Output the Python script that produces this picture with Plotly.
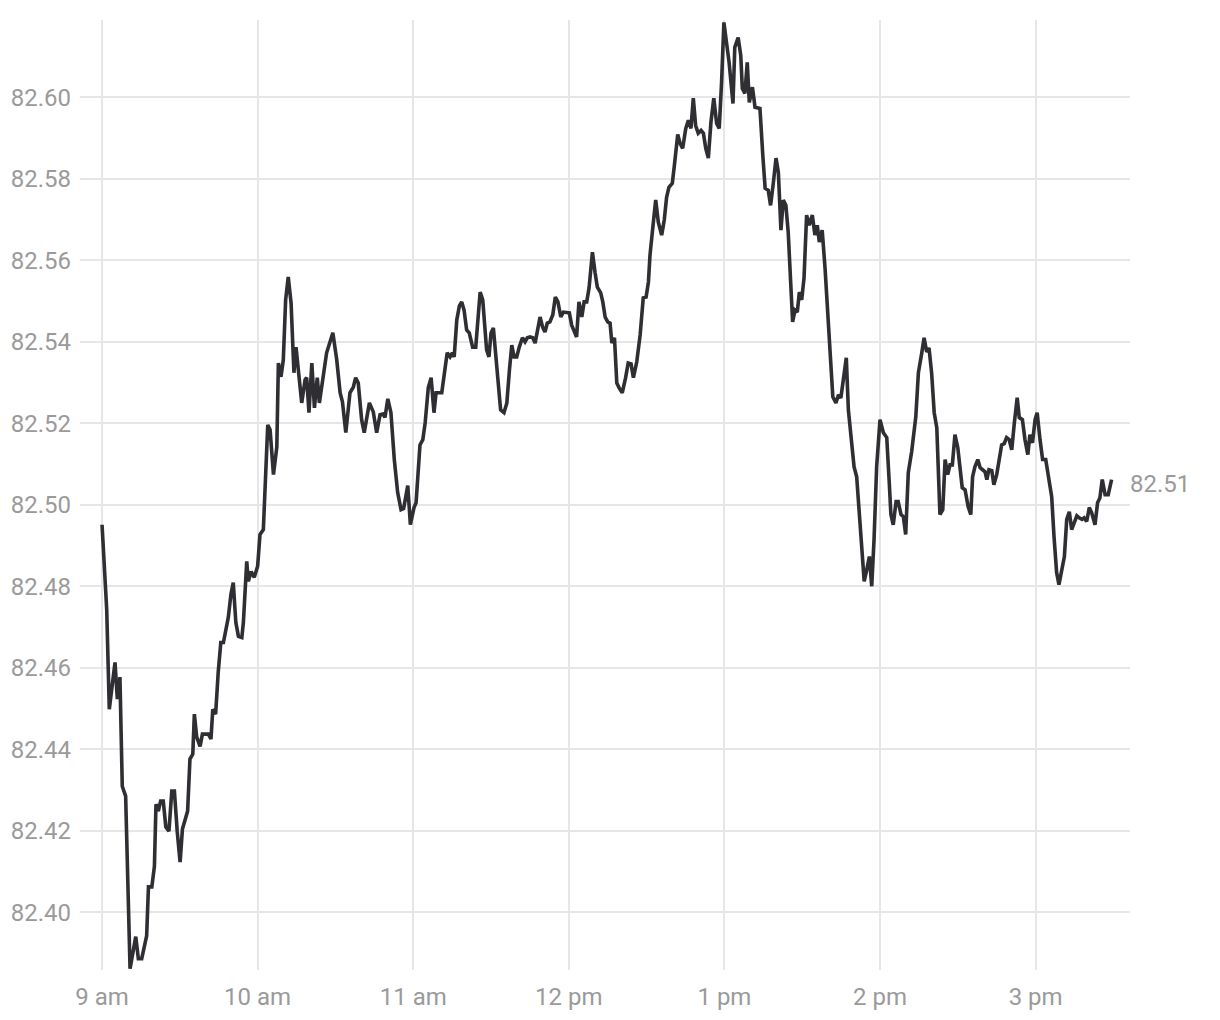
import pandas as pd
import plotly.graph_objects as go

# minutes after 9:00 am
minutes = [0.0, 1.8, 2.8, 5.0, 5.9, 6.9, 7.8, 9.1, 10.8, 13.0, 14.0, 15.3, 17.2, 17.9, 19.2, 20.2, 20.8, 21.7, 22.6, 23.6,
           24.6, 25.8, 26.9, 27.9, 29.0, 30.1, 31.0, 32.0, 33.0, 33.9, 35.0, 35.6, 36.5, 37.8, 38.7, 41.0, 42.0, 42.7, 43.8, 44.8,
           45.8, 46.8, 48.7, 49.7, 50.6, 51.6, 52.6, 53.9, 54.5, 55.8, 56.4, 57.5, 58.7, 60.0, 60.9, 62.2, 63.9, 64.8, 66.1, 67.4,
           68.0, 69.0, 69.9, 70.8, 71.8, 72.9, 74.0, 74.8, 75.7, 77.0, 78.3, 78.9, 79.8, 80.9, 81.9, 83.0, 83.8, 84.7, 86.6, 89.0,
           90.5, 91.8, 92.7, 94.0, 95.6, 96.9, 97.8, 98.8, 100.1, 101.1, 103.1, 104.6, 105.9, 107.2, 108.5, 109.1, 110.2, 111.4, 112.7, 114.0,
           115.3, 116.3, 117.9, 118.9, 120.3, 121.1, 122.6, 123.7, 124.6, 125.8, 126.9, 128.0, 128.8, 131.0, 132.3, 133.1, 134.2, 135.1, 135.8, 136.8,
           137.8, 138.7, 139.6, 140.6, 141.6, 142.9, 144.1, 144.9, 145.8, 146.8, 147.7, 148.3, 149.2, 150.0, 150.9, 151.9, 152.8, 153.7, 155.0, 156.1,
           157.1, 158.0, 158.9, 159.9, 160.9, 162.1, 163.1, 164.0, 165.0, 166.1, 167.0, 167.9, 168.9, 169.9, 170.8, 171.7, 172.7, 173.8, 174.8, 175.8,
           176.9, 177.9, 179.4, 180.2, 181.1, 183.0, 183.9, 185.0, 185.9, 186.9, 187.8, 189.1, 190.1, 191.0, 192.3, 193.1, 194.0, 195.0, 195.9, 196.6,
           197.6, 198.5, 199.4, 200.6, 201.9, 202.9, 204.0, 204.9, 206.2, 207.5, 208.7, 209.8, 210.7, 211.3, 212.2, 213.5, 214.5, 215.8, 216.8, 217.7,
           218.6, 219.9, 220.7, 222.0, 222.9, 223.9, 225.1, 226.1, 227.1, 228.0, 228.9, 229.9, 231.0, 231.9, 232.8, 233.8, 234.8, 235.9, 237.0, 238.0,
           238.9, 239.8, 241.8, 243.3, 244.0, 245.3, 246.3, 246.9, 247.9, 248.8, 249.6, 250.8, 251.8, 253.7, 254.8, 255.7, 256.9, 257.8, 258.9, 259.9,
           260.8, 261.8, 262.7, 263.7, 264.6, 265.7, 266.3, 267.2, 268.1, 268.9, 269.8, 270.7, 271.7, 272.7, 273.9, 274.9, 275.8, 276.6, 277.7, 278.8,
           281.8, 283.0, 284.0, 284.9, 285.9, 287.0, 287.8, 289.1, 290.0, 291.0, 292.0, 292.9, 293.9, 294.9, 295.9, 296.8, 297.7, 298.7, 300.0, 301.3,
           302.6, 303.5, 304.2, 305.1, 306.2, 307.0, 308.1, 309.0, 309.9, 310.9, 312.2, 313.8, 314.8, 316.1, 317.0, 318.0, 318.9, 319.9, 320.9, 321.9,
           323.1, 324.2, 325.1, 326.1, 327.0, 327.9, 328.9, 330.0, 330.8, 331.7, 332.8, 334.0, 335.0, 335.7, 336.6, 337.7, 338.6, 339.4, 340.5, 341.2,
           342.0, 343.1, 343.9, 345.0, 345.9, 346.9, 347.9, 348.8, 349.8, 350.8, 351.8, 352.9, 353.7, 354.9, 355.9, 357.0, 357.8, 358.8, 359.8, 360.6,
           361.7, 362.7, 363.9, 364.9, 366.2, 367.1, 368.1, 369.0, 370.1, 371.1, 372.0, 373.0, 373.9, 374.9, 375.9, 376.8, 377.9, 378.7, 379.7, 380.7,
           381.6, 382.9, 383.9, 384.8, 385.7, 386.8, 388.0, 389.3]

prices = [82.4951, 82.4743, 82.4498, 82.4613, 82.4523, 82.4577, 82.4309, 82.4285, 82.3861, 82.3940, 82.3886, 82.3886, 82.3942, 82.4062, 82.4062, 82.4113, 82.4265, 82.4248, 82.4273, 82.4273,
          82.4209, 82.4199, 82.4297, 82.4297, 82.4197, 82.4123, 82.4204, 82.4224, 82.4248, 82.4376, 82.4388, 82.4486, 82.4430, 82.4407, 82.4437, 82.4437, 82.4425, 82.4498, 82.4486, 82.4589,
          82.4662, 82.4662, 82.4724, 82.4780, 82.4809, 82.4711, 82.4677, 82.4674, 82.4711, 82.4861, 82.4812, 82.4836, 82.4822, 82.4849, 82.4927, 82.4939, 82.5196, 82.5184, 82.5074, 82.5142,
          82.5348, 82.5314, 82.5356, 82.5503, 82.5559, 82.5495, 82.5324, 82.5387, 82.5324, 82.5250, 82.5307, 82.5312, 82.5226, 82.5348, 82.5238, 82.5312, 82.5250, 82.5289, 82.5373, 82.5422,
          82.5356, 82.5275, 82.5253, 82.5177, 82.5275, 82.5289, 82.5312, 82.5299, 82.5209, 82.5177, 82.5250, 82.5228, 82.5177, 82.5221, 82.5223, 82.5214, 82.5260, 82.5226, 82.5111, 82.5030,
          82.4988, 82.4991, 82.5047, 82.4951, 82.4993, 82.5005, 82.5147, 82.5160, 82.5201, 82.5287, 82.5312, 82.5226, 82.5275, 82.5275, 82.5336, 82.5373, 82.5363, 82.5373, 82.5363, 82.5454,
          82.5488, 82.5498, 82.5478, 82.5429, 82.5422, 82.5387, 82.5387, 82.5446, 82.5522, 82.5503, 82.5422, 82.5380, 82.5363, 82.5422, 82.5434, 82.5363, 82.5282, 82.5233, 82.5226, 82.5250,
          82.5331, 82.5392, 82.5363, 82.5363, 82.5387, 82.5410, 82.5400, 82.5410, 82.5412, 82.5410, 82.5397, 82.5429, 82.5461, 82.5436, 82.5424, 82.5446, 82.5449, 82.5466, 82.5510, 82.5498,
          82.5461, 82.5473, 82.5473, 82.5471, 82.5441, 82.5412, 82.5498, 82.5461, 82.5498, 82.5498, 82.5532, 82.5620, 82.5571, 82.5534, 82.5520, 82.5498, 82.5461, 82.5449, 82.5446, 82.5397,
          82.5410, 82.5299, 82.5287, 82.5275, 82.5312, 82.5348, 82.5346, 82.5312, 82.5351, 82.5417, 82.5508, 82.5510, 82.5547, 82.5613, 82.5669, 82.5748, 82.5694, 82.5662, 82.5699, 82.5755,
          82.5779, 82.5789, 82.5833, 82.5909, 82.5887, 82.5875, 82.5924, 82.5944, 82.5924, 82.5998, 82.5931, 82.5912, 82.5919, 82.5912, 82.5875, 82.5851, 82.5939, 82.5998, 82.5936, 82.5924,
          82.6037, 82.6184, 82.6086, 82.5985, 82.6123, 82.6147, 82.6103, 82.6022, 82.6010, 82.6086, 82.5988, 82.6025, 82.5976, 82.5973, 82.5858, 82.5777, 82.5772, 82.5735, 82.5792, 82.5851,
          82.5816, 82.5674, 82.5748, 82.5735, 82.5669, 82.5539, 82.5449, 82.5478, 82.5473, 82.5522, 82.5503, 82.5557, 82.5711, 82.5686, 82.5711, 82.5662, 82.5686, 82.5645, 82.5674, 82.5581,
          82.5265, 82.5250, 82.5270, 82.5262, 82.5314, 82.5361, 82.5233, 82.5142, 82.5093, 82.5069, 82.4981, 82.4890, 82.4812, 82.4841, 82.4873, 82.4800, 82.4915, 82.5093, 82.5209, 82.5177,
          82.5165, 82.5062, 82.4976, 82.4951, 82.5008, 82.5008, 82.4976, 82.4971, 82.4927, 82.5079, 82.5130, 82.5216, 82.5324, 82.5373, 82.5410, 82.5375, 82.5385, 82.5324, 82.5226, 82.5189,
          82.4976, 82.4988, 82.5111, 82.5074, 82.5098, 82.5098, 82.5172, 82.5140, 82.5093, 82.5042, 82.5037, 82.4995, 82.4976, 82.5069, 82.5093, 82.5111, 82.5091, 82.5086, 82.5081, 82.5062,
          82.5086, 82.5084, 82.5049, 82.5074, 82.5116, 82.5147, 82.5150, 82.5165, 82.5160, 82.5135, 82.5201, 82.5263, 82.5214, 82.5209, 82.5160, 82.5123, 82.5172, 82.5152, 82.5209, 82.5226,
          82.5160, 82.5111, 82.5111, 82.5069, 82.5020, 82.4922, 82.4834, 82.4804, 82.4836, 82.4873, 82.4964, 82.4983, 82.4939, 82.4956, 82.4973, 82.4968, 82.4964, 82.4968, 82.4959, 82.4993,
          82.4981, 82.4951, 82.5005, 82.5017, 82.5062, 82.5025, 82.5025, 82.5062]

assert len(minutes) == len(prices), (len(minutes), len(prices))

tick_hours = [9, 10, 11, 12, 13, 14, 15]
tick_labels = ["9 am", "10 am", "11 am", "12 pm", "1 pm", "2 pm", "3 pm"]
y_ticks = [82.40, 82.42, 82.44, 82.46, 82.48, 82.50, 82.52, 82.54, 82.56, 82.58, 82.60]

day = pd.Timestamp("2024-01-02")
base = day + pd.Timedelta(hours=9)
times = base + pd.to_timedelta(minutes, unit="min")
tick_vals = [day + pd.Timedelta(hours=h) for h in tick_hours]

GRAY = "#9a9a9a"
GRID = "#e6e6e6"
FONT = "Roboto"
FS = 24

fig = go.Figure()
fig.add_trace(go.Scatter(
    x=times, y=prices, mode="lines",
    line=dict(color="#2e2e33", width=3.6),
    hoverinfo="skip", showlegend=False,
))

fig.add_annotation(
    x=1, xref="paper", y=prices[-1], yref="y",
    text=f"{prices[-1]:.2f}", showarrow=False,
    xanchor="left", yanchor="middle", xshift=-2, yshift=-4,
    font=dict(family=FONT, size=FS, color=GRAY),
)

fig.update_layout(
    width=1212, height=1012,
    margin=dict(l=72, r=90, t=12, b=50, autoexpand=False),
    paper_bgcolor="white", plot_bgcolor="white",
    font=dict(family=FONT, size=FS, color=GRAY),
    showlegend=False,
)
fig.update_xaxes(
    range=[base - pd.Timedelta(minutes=8.5), base + pd.Timedelta(minutes=396.4)],
    tickvals=tick_vals, ticktext=tick_labels,
    showgrid=True, gridcolor=GRID, gridwidth=2,
    zeroline=False, showline=False, ticks="",
    tickfont=dict(family=FONT, size=FS, color=GRAY),
    ticklabelstandoff=10, automargin=False,
)
fig.update_yaxes(
    range=[82.3858, 82.6190],
    tickvals=y_ticks, tickformat=".2f",
    showgrid=True, gridcolor=GRID, gridwidth=2,
    zeroline=False, showline=False, ticks="",
    tickfont=dict(family=FONT, size=FS, color=GRAY),
    ticklabelstandoff=8, automargin=False,
)

fig.write_html("out.html")
